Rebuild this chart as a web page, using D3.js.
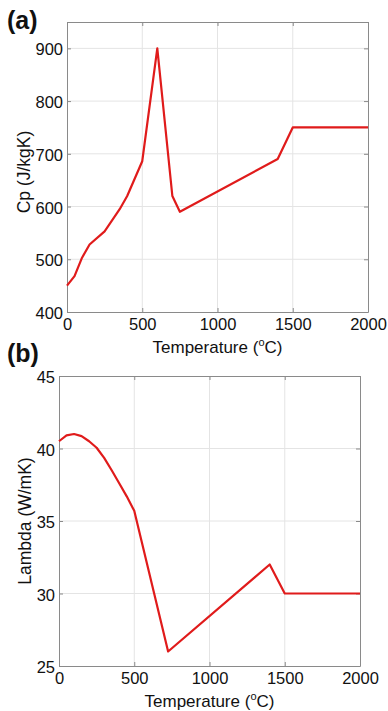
<!DOCTYPE html>
<html>
<head>
<meta charset="utf-8">
<script src="https://cdn.jsdelivr.net/npm/d3@7"></script>
<style>
  body { margin: 0; background: #fff; }
  svg { display: block; font-family: "Liberation Sans", Arial, sans-serif; }
</style>
</head>
<body>
<svg id="chart" width="388" height="711"></svg>
<script>
// data
const cpTemp = [0, 50, 100, 150, 250, 350, 400, 500, 600, 700, 750, 1400, 1500, 2000];
const cpValues = [450, 468, 503, 528, 553, 595, 620, 686, 900, 620, 590, 690, 750, 750];

const lambdaTemp = [0, 50, 100, 150, 200, 250, 300, 350, 400, 450, 500, 725, 1400, 1500, 2000];
const lambdaValues = [40.5, 40.9, 41.0, 40.85, 40.5, 40.05, 39.35, 38.5, 37.6, 36.7, 35.7, 26, 32, 30, 30];

const tempTicks = [0, 500, 1000, 1500, 2000];
const cpTicks = [400, 500, 600, 700, 800, 900];
const lambdaTicks = [25, 30, 35, 40, 45];

const svg = d3.select("#chart");

function drawPanel(opt) {
  const x = d3.scaleLinear().domain([0, 2000]).range([opt.left, opt.right]);
  const y = d3.scaleLinear().domain(opt.yDomain).range([opt.bottom, opt.top]);
  const g = svg.append("g");
  const fmt = d3.format("d");

  // grid
  g.selectAll(".gx").data(tempTicks.slice(1, -1)).enter().append("line")
    .attr("x1", d => x(d)).attr("x2", d => x(d))
    .attr("y1", opt.top).attr("y2", opt.bottom)
    .attr("stroke", "#e4e4e4").attr("stroke-width", 1);
  g.selectAll(".gy").data(opt.yTicks.filter(d => d > opt.yDomain[0] && d < opt.yDomain[1])).enter().append("line")
    .attr("x1", opt.left).attr("x2", opt.right)
    .attr("y1", d => y(d)).attr("y2", d => y(d))
    .attr("stroke", "#e4e4e4").attr("stroke-width", 1);

  // axes, ticks pointing inward (matlab look)
  const xAx = g.append("g").attr("transform", `translate(0,${opt.bottom})`)
    .call(d3.axisBottom(x).tickValues(tempTicks).tickFormat(fmt).tickSizeInner(-4).tickSizeOuter(0));
  const xTop = g.append("g").attr("transform", `translate(0,${opt.top})`)
    .call(d3.axisTop(x).tickValues(tempTicks).tickSizeInner(-4).tickSizeOuter(0).tickFormat(""));
  const yAx = g.append("g").attr("transform", `translate(${opt.left},0)`)
    .call(d3.axisLeft(y).tickValues(opt.yTicks).tickFormat(fmt).tickSizeInner(-4).tickSizeOuter(0).tickPadding(4));
  const yRight = g.append("g").attr("transform", `translate(${opt.right},0)`)
    .call(d3.axisRight(y).tickValues(opt.yTicks).tickSizeInner(-4).tickSizeOuter(0).tickFormat(""));

  [xAx, xTop, yAx, yRight].forEach(a => {
    a.select(".domain").attr("stroke", "#8a8a8a");
    a.selectAll(".tick line").attr("stroke", "#8a8a8a");
    a.selectAll("text").attr("fill", "#111").attr("font-size", 16.5)
      .attr("font-family", "Liberation Sans, Arial, sans-serif");
  });
  xAx.selectAll("text").attr("dy", null).attr("y", 17.5);
  yAx.selectAll("text").attr("dy", "0.4em");

  // curve
  const line = d3.line().x(d => x(d[0])).y(d => y(d[1]));
  g.append("path")
    .datum(opt.temp.map((t, i) => [t, opt.values[i]]))
    .attr("d", line)
    .attr("fill", "none")
    .attr("stroke", "#e01b1b")
    .attr("stroke-width", 2.2)
    .attr("stroke-linejoin", "round");

  // x label
  const xl = g.append("text")
    .attr("x", (opt.left + opt.right) / 2).attr("y", opt.bottom + 41)
    .attr("text-anchor", "middle").attr("font-size", 17).attr("fill", "#111");
  xl.append("tspan").text("Temperature (");
  xl.append("tspan").text("o").attr("font-size", 11).attr("dy", -7);
  xl.append("tspan").text("C)").attr("dy", 7);

  // y label
  g.append("text")
    .attr("transform", `translate(${opt.yLabelX},${(opt.top + opt.bottom) / 2 + opt.yLabelShift}) rotate(-90)`)
    .attr("text-anchor", "middle").attr("font-size", 17.5).attr("fill", "#111")
    .text(opt.yLabel);

  // panel letter
  g.append("text")
    .attr("x", 7).attr("y", opt.letterY)
    .attr("font-size", 25).attr("font-weight", "bold").attr("fill", "#111")
    .text(opt.letter);
}

drawPanel({
  left: 67, right: 368, top: 22, bottom: 312,
  yDomain: [400, 950], yTicks: cpTicks,
  temp: cpTemp, values: cpValues,
  yLabel: "Cp (J/kgK)", yLabelX: 30, yLabelShift: 5,
  letter: "(a)", letterY: 29
});

drawPanel({
  left: 59, right: 360, top: 376, bottom: 666,
  yDomain: [25, 45], yTicks: lambdaTicks,
  temp: lambdaTemp, values: lambdaValues,
  yLabel: "Lambda (W/mK)", yLabelX: 31, yLabelShift: 0,
  letter: "(b)", letterY: 362
});
</script>
</body>
</html>
